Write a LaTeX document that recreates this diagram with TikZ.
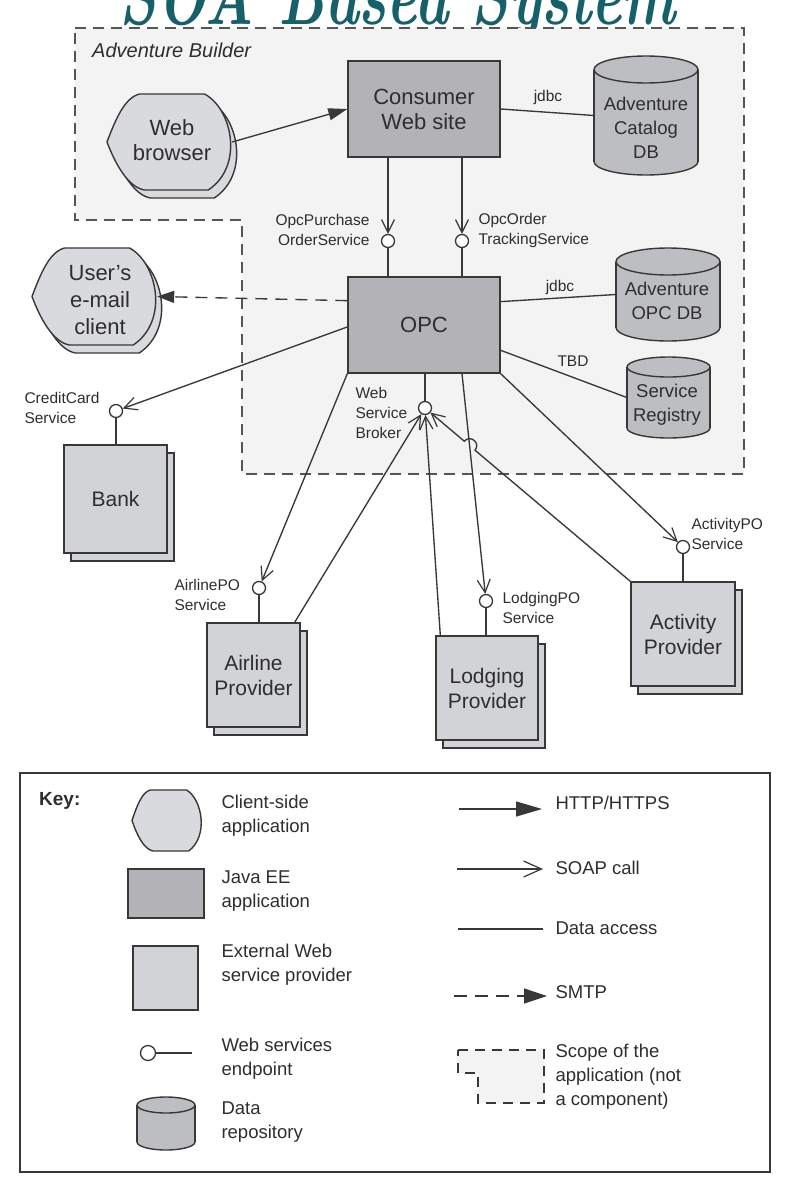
\documentclass[tikz,border=0pt]{standalone}
\usepackage{fontspec}
\setsansfont{Liberation Sans}
\usetikzlibrary{arrows.meta,calc}
\definecolor{linec}{HTML}{383838}
\definecolor{textc}{HTML}{2E2E2E}
\definecolor{javac}{HTML}{B3B3B7}
\definecolor{extc}{HTML}{D2D3D6}
\definecolor{clientc}{HTML}{D9DADD}
\definecolor{cylc}{HTML}{BDBEC2}
\definecolor{regionc}{HTML}{F3F3F3}
\definecolor{borderc}{HTML}{555555}
\definecolor{titlec}{HTML}{16606A}
\tikzset{
  big/.style={font=\sffamily\fontsize{22}{25}\selectfont, text=textc, align=center},
  prov/.style={font=\sffamily\fontsize{21}{25}\selectfont, text=textc, align=center},
  cyltext/.style={font=\sffamily\fontsize{18.5}{24}\selectfont, text=textc, align=center},
  small/.style={font=\sffamily\fontsize{15.5}{20}\selectfont, text=textc, align=left},
  leg/.style={font=\sffamily\fontsize{18.5}{24}\selectfont, text=textc, align=left, anchor=west},
  javaee/.style={draw=linec, line width=1.4pt, fill=javac, minimum width=152pt, minimum height=96pt, inner sep=0pt, big},
  ext/.style={draw=linec, line width=1.4pt, fill=extc, inner sep=0pt, prov},
  extsh/.style={draw=linec, line width=1.4pt, fill=extc},
  clientsty/.style={draw=linec, line width=1.4pt, fill=clientc},
  cylfill/.style={fill=cylc},
  cylline/.style={draw=linec, line width=1.4pt},
  endpt/.style={circle, draw=linec, line width=1.3pt, fill=white, minimum size=13pt, inner sep=0pt},
  conn/.style={draw=linec, line width=1.35pt},
  soap/.style={conn, -{Straight Barb[length=13pt,width=13pt,line width=1.2pt]}},
  http/.style={conn, -{Triangle[length=19pt,width=12pt]}},
  smtp/.style={conn, dash pattern=on 12pt off 8pt, -{Triangle[length=17pt,width=12pt]}},
  soapL/.style={conn, -{Straight Barb[length=18pt,width=16pt,line width=1.2pt]}},
  httpL/.style={conn, -{Triangle[length=26pt,width=15pt]}},
  smtpL/.style={conn, dash pattern=on 13pt off 8pt, -{Triangle[length=23pt,width=15pt]}},
  region/.style={draw=borderc, line width=1.6pt, fill=regionc, dash pattern=on 11pt off 7pt},
}
\newcommand\clientpath[4]{%
  \filldraw[clientsty, shift={(#1,#2)}, xscale=#3, yscale=#4]
   (0,0.5) .. controls (0.07,0.26) and (0.14,0.04) .. (0.26,0)
   -- (0.78,0) .. controls (1.0,0.15) and (1.1,0.75) .. (0.81,1)
   -- (0.3,1) .. controls (0.17,0.97) and (0.07,0.74) .. (0,0.5) -- cycle;
}
\newcommand\dbcyl[6]{% name cx ytop ybot halfwidth ry
  \fill[cylfill] (#2,#4-#6) ellipse[x radius=#5, y radius=#6];
  \draw[cylline] (#2,#4-#6) ellipse[x radius=#5, y radius=#6];
  \fill[cylfill] (#2-#5,#3+#6) rectangle (#2+#5,#4-#6);
  \draw[cylline] (#2-#5,#3+#6) -- (#2-#5,#4-#6) (#2+#5,#3+#6) -- (#2+#5,#4-#6);
  \filldraw[cylfill,cylline] (#2,#3+#6) ellipse[x radius=#5, y radius=#6];
  \node[inner sep=0pt, minimum width={2*#5}, minimum height={#4-#3}] (#1) at (#2,{(#3+#4)/2}) {};
}
\newcommand\provider[6]{% name x0 y0 x1 y1 text
  \filldraw[extsh] (#2+7,#3+8) rectangle (#4+7,#5+8);
  \node[ext, minimum width={#4-#2}, minimum height={#5-#3}] (#1) at ({(#2+#4)/2},{(#3+#5)/2}) {#6};
}
\begin{document}
\begin{tikzpicture}[x=1pt,y=-1pt]
\path[use as bounding box] (0,0) rectangle (795,1186);
\fill[white] (0,0) rectangle (795,1186);

% title (cut off at the top, as in the reference)
\begin{scope}
  \clip (0,0) rectangle (795,1186);
  \node[font=\rmfamily\bfseries\itshape\fontsize{82}{82}\selectfont, text=titlec, anchor=base, inner sep=0pt, xscale=0.7] (title) at (398,24) {SOA Based System};
\end{scope}

% scope of Adventure Builder
\filldraw[region] (75,28) -- (744,28) -- (744,474) -- (242,474) -- (242,220) -- (75,220) -- cycle;
\node[font=\sffamily\itshape\fontsize{20}{24}\selectfont, text=textc, anchor=west, inner sep=0pt] (ab) at (92,50) {Adventure Builder};

% Consumer web site and catalog DB
\node[javaee] (cws) at (424,109) {Consumer\\Web site};
\dbcyl{catdb}{646}{56}{175}{52}{13.5}
\node[cyltext] (cattxt) at (646,128) {Adventure\\Catalog\\DB};
\draw[conn] (cws.east) -- (catdb.west);
\node[small] (jdbc1) at (548,97) {jdbc};

% Web browser
\clientpath{113}{102}{125}{96}
\clientpath{107}{94}{125}{96}
\node[inner sep=0pt, minimum width=125pt, minimum height=96pt] (browser) at (169.5,142) {};
\node[big] (browsertxt) at (172,140) {Web\\browser};
\draw[http] (browser.east) -- (cws.west);

% OPC
\node[javaee] (opc) at (424,325) {OPC};
\node[endpt] (ep1) at (388,241) {};
\node[endpt] (ep2) at (462,241) {};
\draw[soap] (cws.south -| ep1) -- (ep1);
\draw[soap] (cws.south -| ep2) -- (ep2);
\draw[conn] (ep1) -- (opc.north -| ep1);
\draw[conn] (ep2) -- (opc.north -| ep2);
\node[small, anchor=east, align=right] (ep1lab) at (373,230) {OpcPurchase\\OrderService};
\node[small, anchor=west] (ep2lab) at (475,230) {OpcOrder\\TrackingService};

\dbcyl{opcdb}{668}{248}{341}{52}{13.5}
\node[cyltext] (opcdbtxt) at (667,300.5) {Adventure\\OPC DB};
\draw[conn] ($(opc.north east)!0.26!(opc.south east)$) -- (opcdb.west);
\node[small] (jdbc2) at (560,287) {jdbc};

\dbcyl{reg}{668.5}{357}{438}{41.5}{10}
\node[cyltext] (regtxt) at (667,405) {Service\\Registry};
\draw[conn] ($(opc.north east)!0.76!(opc.south east)$) -- (reg.west);
\node[small] (tbd) at (573,361) {TBD};

% User's e-mail client
\clientpath{38}{256}{125}{97}
\clientpath{32}{248}{125}{97}
\node[inner sep=0pt, minimum width=125pt, minimum height=97pt] (email) at (94.5,296.5) {};
\node[big, font=\sffamily\fontsize{22}{27}\selectfont] (emailtxt) at (100,300) {User's\\e-mail\\client};
\draw[smtp] ($(opc.north west)!0.25!(opc.south west)$) -- (email.east);

% Bank
\node[endpt] (cc) at (116,411) {};
\node[small, anchor=west] (cclab) at (21,408) {CreditCard\\Service};
\provider{bank}{64}{445}{167}{553}{Bank}
\draw[conn] (cc) -- (bank.north -| cc);
\draw[soap] ($(opc.north west)!0.52!(opc.south west)$) -- (cc);

% Web service broker
\node[endpt] (wsb) at (425,408) {};
\draw[conn] (opc.south -| wsb) -- (wsb);
\node[small, anchor=west] (wsblab) at (352,413) {Web\\Service\\Broker};

% Providers
\provider{air}{207}{623}{300}{727}{Airline\\Provider}
\node[endpt] (ap) at (259,588) {};
\draw[conn] (ap) -- (air.north -| ap);
\node[small, anchor=west] (aplab) at (171,595) {AirlinePO\\Service};

\provider{lod}{436}{636}{538}{740}{Lodging\\Provider}
\node[endpt] (lp) at (486,601) {};
\draw[conn] (lp) -- (lod.north -| lp);
\node[small, anchor=west] (lplab) at (499,608) {LodgingPO\\Service};

\provider{act}{631}{582}{735}{686}{Activity\\Provider}
\node[endpt] (acp) at (683,547) {};
\draw[conn] (acp) -- (act.north -| acp);
\node[small, anchor=west] (acplab) at (688,534) {ActivityPO\\Service};

% SOAP calls from OPC to providers
\draw[soap] (opc.south west) -- (ap);
\draw[soap] (opc.south -| ep2) -- (lp);
\draw[soap] (opc.south east) -- (acp);

% callbacks to the broker
\draw[soap] ($(air.north east)+(-6,0)$) -- (wsb);
\draw[soap] ($(lod.north west)+(5,0)$) -- (wsb);
\coordinate (hopA) at (475.0,450.2);
\coordinate (hopB) at (464.3,441.2);
\draw[soap] (act.north west) -- (hopA) .. controls (481.0,443.1) and (470.3,434.1) .. (hopB) -- (wsb);

% Key
\node[draw=linec, line width=1.4pt, fill=white, minimum width=750pt, minimum height=399pt, inner sep=0pt] (key) at (395,972.5) {};
\node[font=\sffamily\bfseries\fontsize{19}{24}\selectfont, text=textc, anchor=west, inner sep=0pt] (keylab) at (39,801) {Key:};

\clientpath{132}{790}{70}{61}
\node[leg] (l1) at (218,816) {Client-side\\application};
\node[javaee, minimum width=76pt, minimum height=49pt] (ljava) at (166,893.5) {};
\node[leg] (l2) at (218,891) {Java EE\\application};
\node[ext, minimum width=65pt, minimum height=64pt] (lext) at (165.5,978) {};
\node[leg] (l3) at (218,965) {External Web\\service provider};
\node[endpt, minimum size=15pt] (lep) at (148,1053) {};
\coordinate (lepend) at (192,1053);
\draw[conn] (lep) -- (lepend);
\node[leg] (l4) at (218,1058.5) {Web services\\endpoint};
\dbcyl{lcyl}{166}{1097}{1150}{29}{8}
\node[leg] (l5) at (218,1122.5) {Data\\repository};

\coordinate (a1) at (459,809); \coordinate (b1) at (542,809);
\draw[httpL] (a1) -- (b1);
\node[leg] (r1) at (552,803) {HTTP/HTTPS};
\coordinate (a2) at (457,869); \coordinate (b2) at (543,869);
\draw[soapL] (a2) -- (b2);
\node[leg] (r2) at (552,868) {SOAP call};
\coordinate (a3) at (458,929); \coordinate (b3) at (543,929);
\draw[conn] (a3) -- (b3);
\node[leg] (r3) at (552,928) {Data access};
\coordinate (a4) at (454,996); \coordinate (b4) at (547,996);
\draw[smtpL] (a4) -- (b4);
\node[leg] (r4) at (552,992) {SMTP};
\filldraw[draw=linec, line width=1.4pt, fill=regionc, dash pattern=on 10pt off 7pt] (458,1050) -- (544,1050) -- (544,1103) -- (478,1103) -- (478,1073) -- (458,1073) -- cycle;
\node[leg] (r5) at (552,1077) {Scope of the\\application (not\\a component)};
\end{tikzpicture}
\end{document}
